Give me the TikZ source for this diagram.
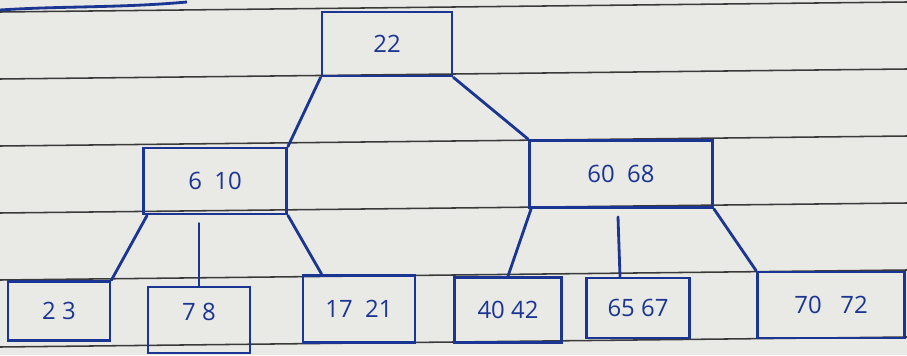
\documentclass[tikz,border=0pt]{standalone}
\usepackage{fontspec}
\setmainfont{Open Sans}
\usepackage{xcolor}
\usetikzlibrary{calc}
\definecolor{paper}{HTML}{E9E9E6}
\definecolor{ink}{HTML}{1B3592}
\definecolor{rule}{HTML}{3A3A3A}

\begin{document}
\begin{tikzpicture}[x=0.025cm, y=-0.025cm,
  keybox/.style={draw=ink, line width=2pt, inner sep=0pt, text=ink, font=\fontsize{17}{19}\selectfont},
  link/.style={draw=ink, line width=2pt, line cap=round},
  ruling/.style={draw=rule, line width=1.1pt}
]
\fill[paper] (0,0) rectangle (907,355);
\useasboundingbox (0,0) rectangle (907,355);
% ruled paper
\foreach \y in {12,79,146,213,280,347}
  \draw[ruling] (0,\y) -- (907,\y-10);
\draw[ink, line width=2pt] (0,10) .. controls (60,6) and (120,8) .. (187,2);
% keys
\node[keybox, minimum width=3.25cm, minimum height=1.6cm] (root) at (387,44) {22};
\node[keybox, minimum width=3.575cm, minimum height=1.65cm] (n610) at (215,181) {6\ \ 10};
\node[keybox, minimum width=4.575cm, minimum height=1.675cm] (n6068) at (621,174) {60\ \ 68};
\node[keybox, minimum width=2.55cm, minimum height=1.475cm] (l23) at (59,311) {2\ 3};
\node[keybox, minimum width=2.55cm, minimum height=1.65cm] (l78) at (199,320) {\raisebox{0.4cm}{7\ 8}};
\node[keybox, minimum width=2.8cm, minimum height=1.675cm] (l1721) at (359,309) {17\ \ 21};
\node[keybox, minimum width=2.675cm, minimum height=1.625cm] (l4042) at (508,310) {40\ 42};
\node[keybox, minimum width=2.575cm, minimum height=1.5cm] (l6567) at (638,308) {65\ 67};
\node[keybox, minimum width=3.675cm, minimum height=1.65cm] (l7072) at (831,305) {70\ \ \ 72};
% links
\draw[link] (root.south west) -- (n610.north east);
\draw[link] (root.south east) -- (n6068.north west);
\draw[link] ($(n610.south west)+(5,0)$) -- (l23.north east);
\draw[link] ($(n610.south -| l78.north)+(0,8)$) -- (l78.north);
\draw[link] (n610.south east) -- ($(l1721.north west)+(20,0)$);
\draw[link] ($(n6068.south west)+(3,0)$) -- (l4042.north);
\draw[link] ($(n6068.south)+(-3,8)$) -- ($(l6567.north)+(-18,0)$);
\draw[link] (n6068.south east) -- (l7072.north west);
\end{tikzpicture}
\end{document}
